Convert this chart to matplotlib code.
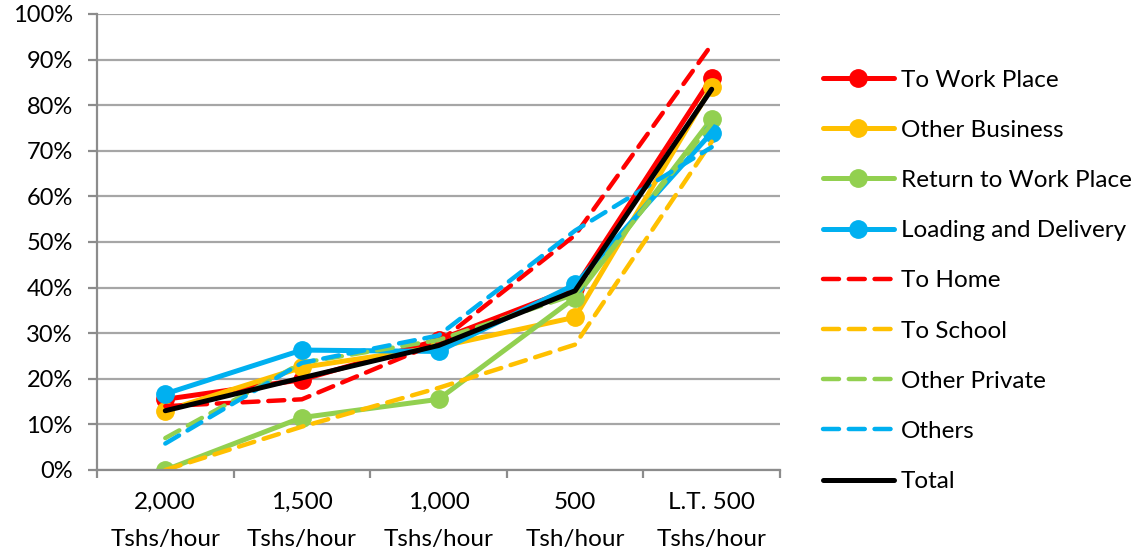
import matplotlib.pyplot as plt
import numpy as np

categories = ["2,000\nTshs/hour", "1,500\nTshs/hour", "1,000\nTshs/hour",
              "500\nTsh/hour", "L.T. 500\nTshs/hour"]

to_work_place = [15.5, 19.8, 28.5, 40.0, 86.0]
other_business = [13.0, 22.5, 27.0, 33.5, 84.0]
return_to_work = [0.0, 11.5, 15.5, 37.8, 77.0]
loading_delivery = [16.7, 26.3, 26.0, 40.7, 74.0]
to_home = [14.0, 15.5, 28.0, 51.5, 93.3]
to_school = [0.0, 9.5, 18.0, 27.5, 72.0]
other_private = [7.0, 23.5, 28.5, 38.5, 76.0]
others = [5.8, 23.5, 29.5, 52.5, 70.8]
total = [13.0, 20.2, 27.3, 39.3, 83.5]

plt.rcParams['font.family'] = ['Lato', 'DejaVu Sans']

fig = plt.figure(figsize=(11.48, 5.55), dpi=100)
ax = fig.add_axes([97 / 1148, 85 / 555, 683 / 1148, 456 / 555])

x = np.arange(len(categories))
red, yellow, green, blue = "#FF0000", "#FFC000", "#92D050", "#00B0F0"

solid = dict(linewidth=3.6, marker="o", markersize=12.5, solid_capstyle="round")
dashed = dict(linewidth=3.2, linestyle=(0, (3.6, 2.2)), dash_capstyle="round")

ax.plot(x, to_work_place, color=red, label="To Work Place", **solid)
ax.plot(x, other_business, color=yellow, label="Other Business", **solid)
ax.plot(x, return_to_work, color=green, label="Return to Work Place", **solid)
ax.plot(x, loading_delivery, color=blue, label="Loading and Delivery", **solid)
ax.plot(x, to_home, color=red, label="To Home", **dashed)
ax.plot(x, to_school, color=yellow, label="To School", **dashed)
ax.plot(x, other_private, color=green, label="Other Private", **dashed)
ax.plot(x, others, color=blue, label="Others", **dashed)
ax.plot(x, total, color="black", linewidth=3.6, solid_capstyle="round", label="Total")

ax.set_xlim(-0.5, len(categories) - 0.5)
ax.set_ylim(0, 100)
ax.set_yticks(np.arange(0, 101, 10))
ax.set_yticklabels([f"{v}%" for v in range(0, 101, 10)])
ax.set_xticks(x)
ax.set_xticklabels(categories, linespacing=1.95)
ax.set_xticks(np.arange(-0.5, len(categories), 1), minor=True)

ax.grid(axis="y", color="#A6A6A6", linewidth=1.6)
ax.set_axisbelow(True)
for side in ["top", "right"]:
    ax.spines[side].set_visible(False)
for side in ["left", "bottom"]:
    ax.spines[side].set_color("#8C8C8C")
    ax.spines[side].set_linewidth(1.6)

ax.tick_params(axis="y", labelsize=17, length=6.5, width=1.6, color="#8C8C8C", pad=11)
ax.tick_params(axis="x", which="major", labelsize=17.5, length=0, pad=16)
ax.tick_params(axis="x", which="minor", length=6, width=1.6, color="#8C8C8C")

ax.legend(loc="center left", bbox_to_anchor=(811 / 1148, 0.494), bbox_transform=fig.transFigure,
          frameon=False, fontsize=17.5, labelspacing=1.2, handlelength=2.9,
          handletextpad=0.3, borderpad=0)

fig.savefig("out.png", dpi=100)
